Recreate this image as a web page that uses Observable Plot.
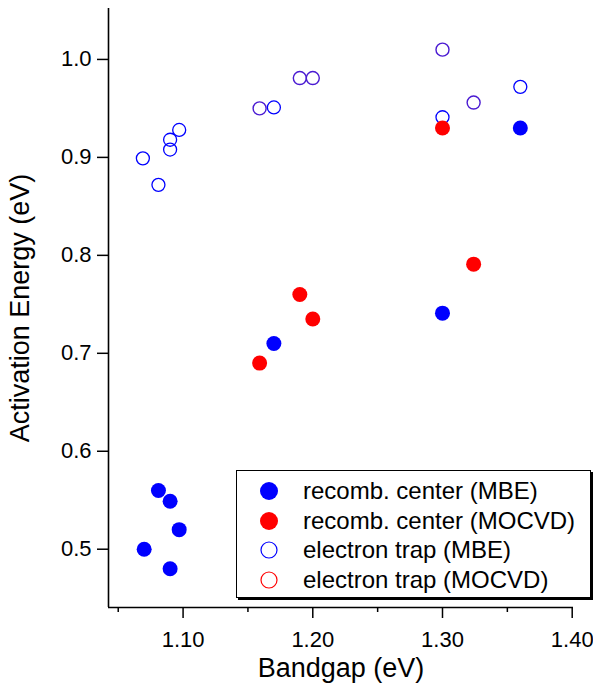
<!DOCTYPE html>
<html>
<head>
<meta charset="utf-8">
<script src="https://cdn.jsdelivr.net/npm/d3@7"></script>
<script src="https://cdn.jsdelivr.net/npm/@observablehq/plot@0.6"></script>
<style>
  html, body { margin: 0; padding: 0; background: #fff; }
  #wrap { position: relative; width: 593px; height: 685px; font-family: "Liberation Sans", Arial, Helvetica, sans-serif; }
  #legend { position: absolute; left: 236px; top: 470px; width: 353px; height: 126px; border: 1.5px solid #000; background: #fff; box-shadow: 2px 2px 0 #000; }
  .row { position: absolute; left: 0; height: 30px; display: flex; align-items: center; }
  .row svg { width: 66px; height: 30px; }
  .row span { font-size: 24px; color: #000; white-space: nowrap; }
</style>
</head>
<body>
<div id="wrap"></div>
<script>
// ---- Data ----
const seriesNames = ["recomb. center (MBE)", "recomb. center (MOCVD)", "electron trap (MBE)", "electron trap (MOCVD)"];

const recombMBE_x = [1.070, 1.081, 1.090, 1.097, 1.090, 1.170, 1.300, 1.360];
const recombMBE_y = [0.500, 0.560, 0.549, 0.520, 0.480, 0.710, 0.741, 0.930];

const recombMOCVD_x = [1.159, 1.190, 1.200, 1.300, 1.324];
const recombMOCVD_y = [0.690, 0.760, 0.735, 0.930, 0.791];

const trapMBE_x = [1.069, 1.081, 1.090, 1.090, 1.097, 1.170, 1.300, 1.360];
const trapMBE_y = [0.899, 0.872, 0.918, 0.908, 0.928, 0.951, 0.941, 0.972];

const trapMOCVD_x = [1.159, 1.190, 1.200, 1.300, 1.324];
const trapMOCVD_y = [0.950, 0.981, 0.981, 1.010, 0.956];

const xMajorTicks = [1.10, 1.20, 1.30, 1.40];
const xMinorTicks = [1.05, 1.15, 1.25, 1.35];
const yTicks = [0.5, 0.6, 0.7, 0.8, 0.9, 1.0];
const xDomain = [1.0425, 1.401];
const yDomain = [0.4405, 1.052];
const xLabel = "Bandgap (eV)";
const yLabel = "Activation Energy (eV)";

const blue = "#0000ff", red = "#ff0000", purple = "#4a1ad2";

const toRows = (xs, ys) => xs.map((x, i) => ({x, y: ys[i]}));

const chart = Plot.plot({
  width: 593,
  height: 685,
  marginLeft: 108,
  marginRight: 20,
  marginTop: 8,
  marginBottom: 78,
  style: {fontFamily: "Liberation Sans, Arial, Helvetica, sans-serif", background: "#fff", color: "#000", overflow: "visible"},
  x: {domain: xDomain},
  y: {domain: yDomain},
  marks: [
    Plot.ruleX([xDomain[0]], {stroke: "#000", strokeWidth: 1.6}),
    Plot.ruleY([yDomain[0]], {stroke: "#000", strokeWidth: 1.6}),
    Plot.axisY({ticks: yTicks, tickSize: 11, tickPadding: 6, tickFormat: d3.format(".1f"), fontSize: 22, strokeWidth: 1.5, label: null}),
    Plot.axisX({ticks: xMajorTicks, tickSize: 11, tickPadding: 13, tickFormat: d3.format(".2f"), fontSize: 22, strokeWidth: 1.5, label: null}),
    Plot.axisX({ticks: xMinorTicks, tickSize: 5, tickFormat: () => "", strokeWidth: 1.5, label: null}),
    Plot.text([yLabel], {frameAnchor: "left", textAnchor: "middle", dx: -88, rotate: -90, fontSize: 27, fill: "#000"}),
    Plot.text([xLabel], {frameAnchor: "bottom", textAnchor: "middle", dy: 69, fontSize: 27, fill: "#000"}),
    Plot.dot(toRows(trapMBE_x, trapMBE_y), {x: "x", y: "y", r: 6.5, stroke: blue, strokeWidth: 1.3, fill: "none"}),
    Plot.dot(toRows(recombMBE_x, recombMBE_y), {x: "x", y: "y", r: 7.5, fill: blue, stroke: "none"}),
    Plot.dot(toRows(recombMOCVD_x, recombMOCVD_y), {x: "x", y: "y", r: 7.5, fill: red, stroke: "none"}),
    Plot.dot(toRows(trapMOCVD_x, trapMOCVD_y), {x: "x", y: "y", r: 6.5, stroke: purple, strokeWidth: 1.4, fill: "none"})
  ]
});

const wrap = document.getElementById("wrap");
wrap.appendChild(chart);

// Legend
const legendSpec = [
  {name: seriesNames[0], fill: blue, stroke: "none", r: 9},
  {name: seriesNames[1], fill: red, stroke: "none", r: 9},
  {name: seriesNames[2], fill: "none", stroke: blue, r: 8},
  {name: seriesNames[3], fill: "none", stroke: red, r: 8}
];
const legend = document.createElement("div");
legend.id = "legend";
legendSpec.forEach((d, i) => {
  const row = document.createElement("div");
  row.className = "row";
  row.style.top = (5 + i * 29.7) + "px";
  row.innerHTML = `<svg><circle cx="32" cy="15" r="${d.r}" fill="${d.fill}" stroke="${d.stroke}" stroke-width="1.2"></circle></svg><span>${d.name}</span>`;
  legend.appendChild(row);
});
wrap.appendChild(legend);
</script>
</body>
</html>
